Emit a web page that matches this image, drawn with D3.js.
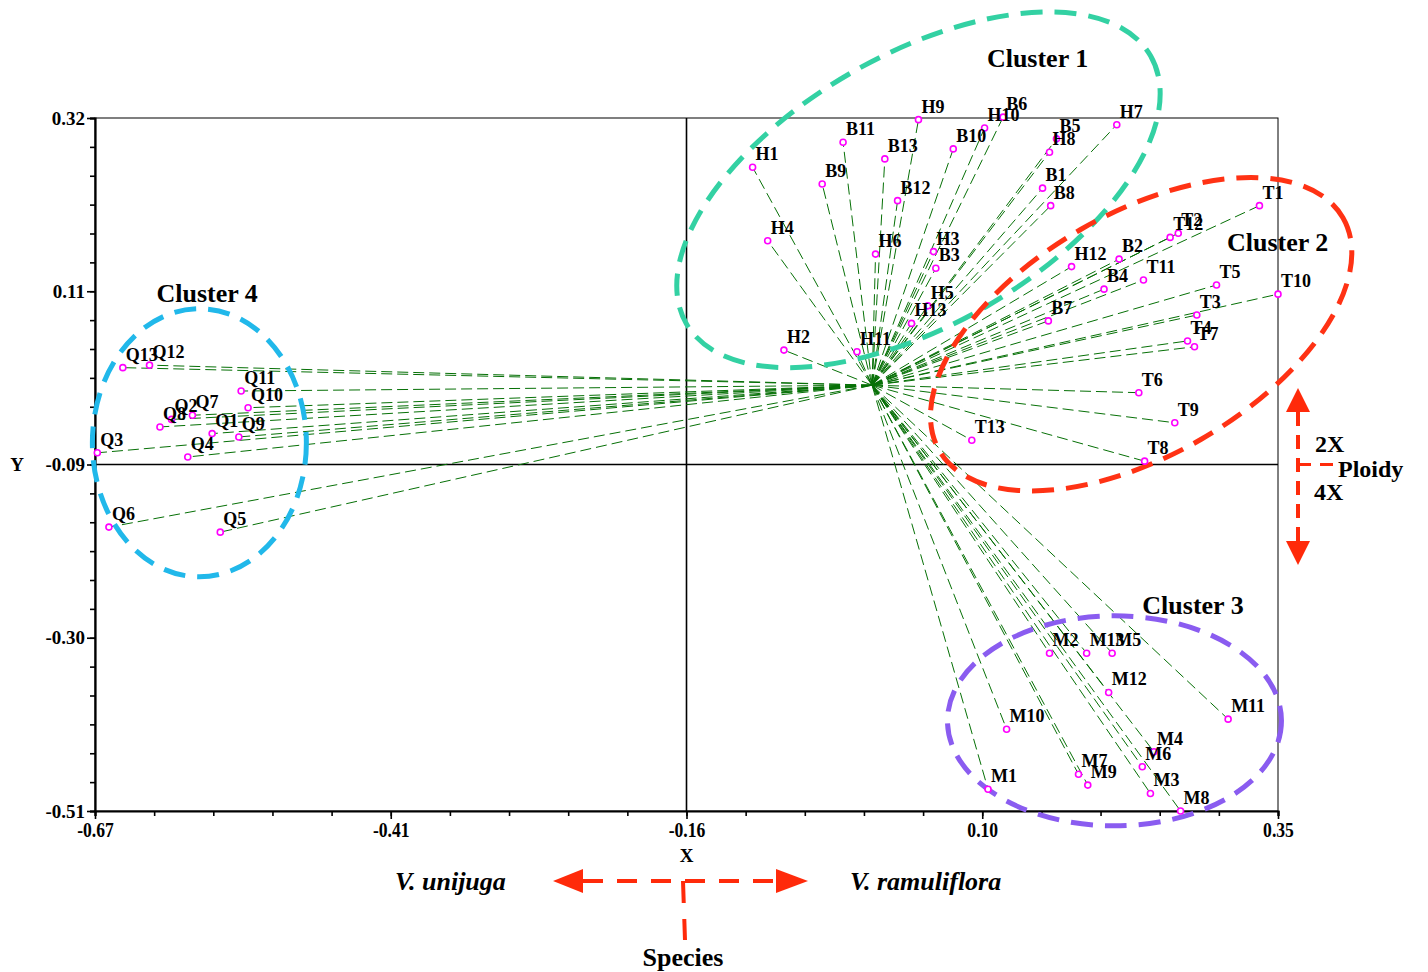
<!DOCTYPE html>
<html>
<head>
<meta charset="utf-8">
<script src="https://cdn.jsdelivr.net/npm/d3@7"></script>
<style>
  body { margin: 0; background: #fff; }
  svg { display: block; }
  text { font-family: "Liberation Serif", "Times New Roman", serif; font-weight: bold; fill: #000; }
</style>
</head>
<body>
<svg id="chart" width="1428" height="972"></svg>
<script>
// sample ids with their coordinates on the two axes
const sampleIds = [
  "H1","H2","H3","H4","H5","H6","H7","H8","H9","H10","H11","H12","H13",
  "B1","B2","B3","B4","B5","B6","B7","B8","B9","B10","B11","B12","B13",
  "T1","T2","T3","T4","T5","T6","T7","T8","T9","T10","T11","T12","T13",
  "M1","M2","M3","M4","M5","M6","M7","M8","M9","M10","M11","M12","M13",
  "Q1","Q2","Q3","Q4","Q5","Q6","Q7","Q8","Q9","Q10","Q11","Q12","Q13"
];
const xValues = [
  -0.103, -0.076, 0.053, -0.090, 0.048, 0.003, 0.211, 0.153, 0.040, 0.097, -0.013, 0.172, 0.034,
  0.147, 0.213, 0.055, 0.200, 0.159, 0.113, 0.152, 0.154, -0.043, 0.070, -0.025, 0.022, 0.011,
  0.334, 0.264, 0.280, 0.272, 0.297, 0.230, 0.278, 0.235, 0.261, 0.350, 0.234, 0.257, 0.086,
  0.100, 0.153, 0.240, 0.243, 0.207, 0.233, 0.178, 0.266, 0.186, 0.116, 0.307, 0.204, 0.185,
  -0.569, -0.604, -0.668, -0.590, -0.562, -0.658, -0.586, -0.614, -0.546, -0.538, -0.544, -0.623, -0.646
];
const yValues = [
  0.261, 0.042, 0.160, 0.173, 0.095, 0.157, 0.312, 0.279, 0.318, 0.308, 0.040, 0.142, 0.074,
  0.236, 0.151, 0.140, 0.115, 0.295, 0.321, 0.077, 0.215, 0.241, 0.283, 0.291, 0.221, 0.271,
  0.215, 0.182, 0.084, 0.053, 0.120, -0.009, 0.046, -0.091, -0.045, 0.109, 0.126, 0.177, -0.066,
  -0.484, -0.321, -0.489, -0.439, -0.321, -0.457, -0.466, -0.510, -0.479, -0.412, -0.400, -0.368, -0.321,
  -0.058, -0.041, -0.081, -0.086, -0.176, -0.170, -0.036, -0.050, -0.062, -0.027, -0.007, 0.024, 0.021
];

const xTickLabels = ["-0.67", "-0.41", "-0.16", "0.10", "0.35"];
const yTickLabels = ["-0.51", "-0.30", "-0.09", "0.11", "0.32"];

// cluster rings: centre in data units
const clusterNames = ["Cluster 1", "Cluster 2", "Cluster 3", "Cluster 4"];
const clusterCx = [0.040, 0.232, 0.209, -0.580];
const clusterCy = [0.234, 0.061, -0.402, -0.069];
const clusterLabelX = [0.099, 0.306, 0.233, -0.617];
const clusterLabelY = [0.381, 0.161, -0.274, 0.100];

const data = sampleIds.map((id, i) => ({ id, x: xValues[i], y: yValues[i] }));

const svg = d3.select("#chart");
const margin = { top: 118, right: 150, bottom: 161, left: 95 };
const width = 1428 - margin.left - margin.right;
const height = 972 - margin.top - margin.bottom;

const x = d3.scaleLinear().domain([-0.67, 0.35]).range([margin.left, margin.left + width]);
const y = d3.scaleLinear().domain([-0.51, 0.32]).range([margin.top + height, margin.top]);

svg.append("rect").attr("width", 1428).attr("height", 972).attr("fill", "#fff");

// frame (top / right)
svg.append("rect")
  .attr("x", margin.left).attr("y", margin.top)
  .attr("width", width).attr("height", height)
  .attr("fill", "none").attr("stroke", "#000").attr("stroke-width", 1);

// cross lines through the middle of the plot
const xMid = (-0.67 + 0.35) / 2, yMid = (-0.51 + 0.32) / 2;
svg.append("line")
  .attr("x1", x(xMid)).attr("x2", x(xMid))
  .attr("y1", y.range()[1]).attr("y2", y.range()[0])
  .attr("stroke", "#000").attr("stroke-width", 1.6);
svg.append("line")
  .attr("x1", x.range()[0]).attr("x2", x.range()[1])
  .attr("y1", y(yMid)).attr("y2", y(yMid))
  .attr("stroke", "#000").attr("stroke-width", 1.6);

// axes
const xMajor = d3.range(5).map(i => -0.67 + i * 1.02 / 4);
const yMajor = d3.range(5).map(i => -0.51 + i * 0.83 / 4);
const xMinor = d3.range(21).map(i => -0.67 + i * 1.02 / 20);
const yMinor = d3.range(25).map(i => -0.51 + i * 0.83 / 24);

const xAxis = svg.append("g")
  .attr("transform", `translate(0,${margin.top + height})`)
  .call(d3.axisBottom(x).tickValues(xMinor).tickSize(5).tickFormat(""));
xAxis.select(".domain").attr("stroke-width", 2.2);
xAxis.selectAll(".tick line").attr("stroke-width", 1.6);
svg.append("g")
  .attr("transform", `translate(0,${margin.top + height})`)
  .call(d3.axisBottom(x).tickValues(xMajor).tickSize(8).tickPadding(4)
    .tickFormat((d, i) => xTickLabels[i]))
  .call(g => g.select(".domain").remove())
  .call(g => g.selectAll(".tick line").attr("stroke-width", 1.6))
  .call(g => g.selectAll("text")
    .attr("font-size", 20).attr("font-family", "Liberation Serif, serif")
    .attr("font-weight", "bold").attr("fill", "#000")
    .attr("transform", "scale(0.88,1)"));

const yAxis = svg.append("g")
  .attr("transform", `translate(${margin.left},0)`)
  .call(d3.axisLeft(y).tickValues(yMinor).tickSize(5).tickFormat(""));
yAxis.select(".domain").attr("stroke-width", 2.2);
yAxis.selectAll(".tick line").attr("stroke-width", 1.6);
svg.append("g")
  .attr("transform", `translate(${margin.left},0)`)
  .call(d3.axisLeft(y).tickValues(yMajor).tickSize(8).tickPadding(2)
    .tickFormat((d, i) => yTickLabels[i]))
  .call(g => g.select(".domain").remove())
  .call(g => g.selectAll(".tick line").attr("stroke-width", 1.6))
  .call(g => g.selectAll("text")
    .attr("font-size", 19).attr("font-family", "Liberation Serif, serif")
    .attr("font-weight", "bold").attr("fill", "#000"));

svg.append("text").attr("x", x(xMid)).attr("y", 862)
  .attr("text-anchor", "middle").attr("font-size", 19).text("X");
svg.append("text").attr("x", 17).attr("y", 471)
  .attr("text-anchor", "middle").attr("font-size", 19).text("Y");

// spokes from origin
svg.append("g").selectAll("line")
  .data(data).join("line")
  .attr("x1", x(0)).attr("y1", y(0))
  .attr("x2", d => x(d.x)).attr("y2", d => y(d.y))
  .attr("stroke", "#067006").attr("stroke-width", 1)
  .attr("stroke-dasharray", "11,5");

// cluster rings (sizes in px, rotation in degrees)
const ringRx = [268, 233, 167, 107];
const ringRy = [135, 121, 105, 134];
const ringRot = [-30, -30, 0, 0];
const ringColor = ["#33d1a3", "#ff3214", "#8a5cf0", "#21b8ea"];
svg.append("g").selectAll("ellipse")
  .data(clusterNames).join("ellipse")
  .attr("cx", 0).attr("cy", 0)
  .attr("rx", (d, i) => ringRx[i]).attr("ry", (d, i) => ringRy[i])
  .attr("transform", (d, i) => `translate(${x(clusterCx[i])},${y(clusterCy[i])}) rotate(${ringRot[i]})`)
  .attr("fill", "none").attr("stroke", (d, i) => ringColor[i])
  .attr("stroke-width", 5).attr("stroke-dasharray", "22,12");

svg.append("g").selectAll("text")
  .data(clusterNames).join("text")
  .attr("x", (d, i) => x(clusterLabelX[i])).attr("y", (d, i) => y(clusterLabelY[i]))
  .attr("font-size", 26).text(d => d);

// points + labels
svg.append("g").selectAll("circle")
  .data(data).join("circle")
  .attr("cx", d => x(d.x)).attr("cy", d => y(d.y)).attr("r", 3)
  .attr("fill", "#fff").attr("stroke", "#ff00ff").attr("stroke-width", 1.6);
svg.append("g").selectAll("text")
  .data(data).join("text")
  .attr("x", d => x(d.x) + 3).attr("y", d => y(d.y) - 7)
  .attr("font-size", 18).text(d => d.id);

// ploidy arrow
const red = "#ff2a0a";
const px = 1298;
svg.append("line").attr("x1", px).attr("x2", px).attr("y1", 412).attr("y2", 542)
  .attr("stroke", red).attr("stroke-width", 4).attr("stroke-dasharray", "14,9");
svg.append("path").attr("d", `M${px},388 L${px - 12},412 L${px + 12},412 Z`).attr("fill", red);
svg.append("path").attr("d", `M${px},565 L${px - 12},541 L${px + 12},541 Z`).attr("fill", red);
svg.append("line").attr("x1", px).attr("x2", 1340).attr("y1", y(yMid)).attr("y2", y(yMid))
  .attr("stroke", red).attr("stroke-width", 3).attr("stroke-dasharray", "13,9");
svg.append("text").attr("x", 1315).attr("y", 452).attr("font-size", 24).text("2X");
svg.append("text").attr("x", 1338).attr("y", 477).attr("font-size", 24).text("Ploidy");
svg.append("text").attr("x", 1314).attr("y", 500).attr("font-size", 24).text("4X");

// species arrow
const sy = 881;
svg.append("line").attr("x1", 583).attr("x2", 776).attr("y1", sy).attr("y2", sy)
  .attr("stroke", red).attr("stroke-width", 4).attr("stroke-dasharray", "20,14");
svg.append("path").attr("d", `M553,${sy} L583,${sy - 12} L583,${sy + 12} Z`).attr("fill", red);
svg.append("path").attr("d", `M808,${sy} L776,${sy - 12} L776,${sy + 12} Z`).attr("fill", red);
svg.append("line").attr("x1", 683).attr("x2", 685).attr("y1", sy).attr("y2", 940)
  .attr("stroke", red).attr("stroke-width", 4).attr("stroke-dasharray", "22,16");
svg.append("text").attr("x", 395).attr("y", 890).attr("font-size", 26)
  .attr("font-style", "italic").text("V. unijuga");
svg.append("text").attr("x", 850).attr("y", 890).attr("font-size", 26)
  .attr("font-style", "italic").text("V. ramuliflora");
svg.append("text").attr("x", 683).attr("y", 966).attr("text-anchor", "middle")
  .attr("font-size", 26).text("Species");
</script>
</body>
</html>
